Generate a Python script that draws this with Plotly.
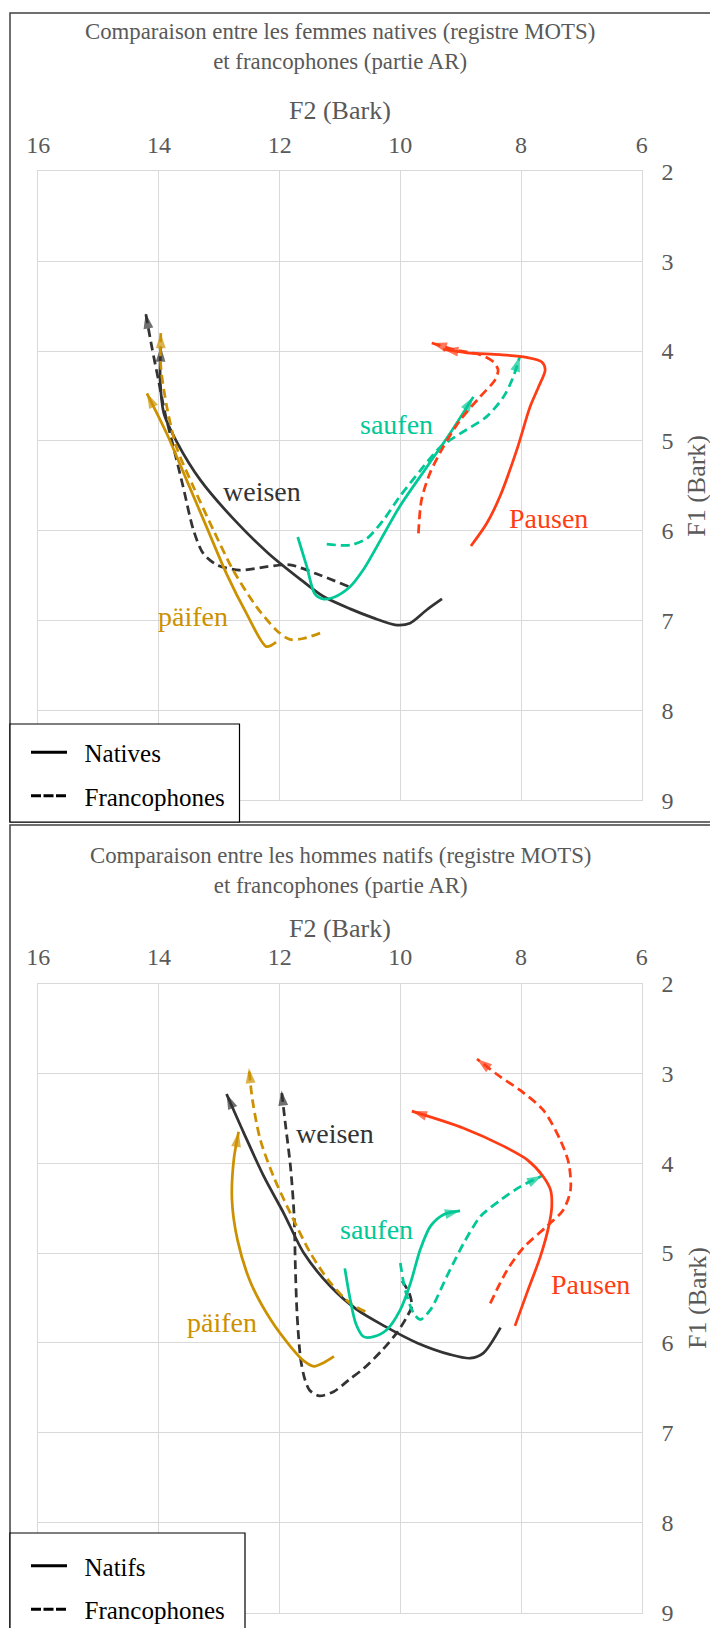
import plotly.graph_objects as go

# the page shows the figure with an 8px body margin, so the figure is drawn
# 8px smaller and every position below is given in page pixels
OFF = 8
FW, FH = 718 - OFF, 1628 - OFF
FONT = "Liberation Serif"
GREY = "#595959"

C_WEISEN = "#333333"
C_PAIFEN = "#CC9100"
C_SAUFEN = "#00C896"
C_PAUSEN = "#FF3C14"

# ---- femmes (top chart), F2 / F1 in Bark, first point = start, last = arrow
fw_weisen_nat_x = [9.31, 9.56, 9.84, 10.06, 10.45, 10.83, 11.28, 11.64, 12.19, 12.75, 13.31, 13.69, 13.92, 13.98, 13.97]
fw_weisen_nat_y = [6.76, 6.88, 7.03, 7.05, 6.97, 6.87, 6.73, 6.55, 6.25, 5.88, 5.44, 5.03, 4.69, 4.32, 3.95]
fw_weisen_fr_x = [10.86, 11.39, 11.83, 12.21, 12.66, 13.04, 13.27, 13.43, 13.60, 13.76, 13.90, 14.01, 14.12, 14.22]
fw_weisen_fr_y = [6.62, 6.48, 6.38, 6.40, 6.44, 6.38, 6.25, 5.99, 5.51, 5.07, 4.69, 4.32, 3.95, 3.58]
fw_paifen_nat_x = [12.06, 12.22, 12.55, 12.88, 13.21, 13.54, 13.87, 14.20]
fw_paifen_nat_y = [7.24, 7.29, 6.92, 6.48, 5.96, 5.44, 4.92, 4.47]
fw_paifen_fr_x = [11.33, 11.61, 11.83, 12.05, 12.38, 12.77, 13.10, 13.43, 13.71, 13.87, 13.97, 13.97]
fw_paifen_fr_y = [7.14, 7.20, 7.21, 7.11, 6.85, 6.44, 5.99, 5.51, 5.07, 4.62, 4.17, 3.80]
fw_saufen_nat_x = [11.70, 11.55, 11.42, 11.28, 11.10, 10.83, 10.60, 10.45, 10.01, 9.56, 9.18, 8.79]
fw_saufen_nat_y = [6.07, 6.40, 6.70, 6.76, 6.74, 6.62, 6.42, 6.25, 5.73, 5.29, 4.92, 4.51]
fw_saufen_fr_x = [11.22, 10.83, 10.56, 10.28, 10.01, 9.67, 9.34, 9.01, 8.57, 8.29, 8.13, 8.02]
fw_saufen_fr_y = [6.15, 6.16, 6.09, 5.88, 5.62, 5.33, 5.07, 4.92, 4.73, 4.51, 4.29, 4.06]
fw_pausen_nat_x = [8.83, 8.57, 8.35, 8.07, 7.85, 7.71, 7.60, 7.66, 7.91, 8.35, 8.90, 9.29]
fw_pausen_nat_y = [6.17, 5.92, 5.62, 5.10, 4.62, 4.40, 4.21, 4.12, 4.07, 4.04, 4.02, 3.98]
fw_pausen_fr_x = [9.70, 9.65, 9.51, 9.29, 9.01, 8.68, 8.43, 8.38, 8.46, 8.68, 9.07, 9.48]
fw_pausen_fr_y = [6.03, 5.66, 5.36, 5.07, 4.77, 4.51, 4.32, 4.21, 4.12, 4.04, 3.99, 3.91]

# ---- hommes (bottom chart)
hm_weisen_nat_x = [8.34, 8.62, 8.84, 9.17, 9.72, 10.27, 10.72, 11.16, 11.60, 11.93, 12.26, 12.59, 12.88]
hm_weisen_nat_y = [5.83, 6.11, 6.17, 6.13, 6.00, 5.81, 5.63, 5.37, 5.00, 4.56, 4.15, 3.67, 3.23]
hm_weisen_fr_x = [9.97, 9.85, 9.81, 9.90, 10.05, 10.30, 10.60, 10.85, 11.10, 11.34, 11.50, 11.58, 11.65, 11.71, 11.74, 11.76, 11.82, 11.90, 11.97]
hm_weisen_fr_y = [5.31, 5.45, 5.59, 5.72, 5.88, 6.08, 6.28, 6.41, 6.54, 6.59, 6.53, 6.41, 6.19, 5.70, 5.15, 4.59, 4.04, 3.59, 3.19]
hm_paifen_nat_x = [11.10, 11.27, 11.43, 11.60, 11.82, 12.15, 12.48, 12.70, 12.79, 12.76, 12.68]
hm_paifen_nat_y = [6.15, 6.22, 6.26, 6.20, 6.04, 5.74, 5.33, 4.85, 4.41, 3.96, 3.65]
hm_paifen_fr_x = [10.58, 10.83, 11.16, 11.49, 11.82, 12.10, 12.32, 12.45, 12.51]
hm_paifen_fr_y = [5.65, 5.56, 5.33, 5.00, 4.56, 4.15, 3.74, 3.30, 2.94]
hm_saufen_nat_x = [10.92, 10.83, 10.74, 10.61, 10.44, 10.22, 10.00, 9.83, 9.67, 9.50, 9.28, 9.01]
hm_saufen_nat_y = [5.17, 5.52, 5.78, 5.93, 5.93, 5.85, 5.63, 5.33, 4.96, 4.70, 4.57, 4.53]
hm_saufen_fr_x = [10.00, 9.92, 9.78, 9.67, 9.50, 9.23, 8.95, 8.67, 8.34, 8.01, 7.65]
hm_saufen_fr_y = [5.11, 5.41, 5.67, 5.74, 5.63, 5.26, 4.89, 4.59, 4.41, 4.26, 4.14]
hm_pausen_nat_x = [8.10, 7.90, 7.68, 7.54, 7.49, 7.51, 7.63, 7.90, 8.29, 8.95, 9.81]
hm_pausen_nat_y = [5.81, 5.44, 5.04, 4.70, 4.48, 4.30, 4.15, 3.96, 3.81, 3.61, 3.42]
hm_pausen_fr_x = [8.51, 8.23, 7.96, 7.57, 7.30, 7.18, 7.21, 7.35, 7.63, 8.01, 8.34, 8.73]
hm_pausen_fr_y = [5.56, 5.19, 4.94, 4.70, 4.52, 4.30, 4.00, 3.74, 3.41, 3.19, 3.04, 2.84]

# word labels (text, F2, F1)
words = ["weisen", "päifen", "saufen", "Pausen"]
word_colors = [C_WEISEN, C_PAIFEN, C_SAUFEN, C_PAUSEN]
fw_label_x = [12.30, 13.44, 10.06, 7.55]
fw_label_y = [5.56, 6.96, 4.82, 5.86]
hm_label_x = [11.08, 12.95, 10.39, 6.85]
hm_label_y = [3.67, 5.77, 4.74, 5.35]

titles = ["Comparaison entre les femmes natives (registre MOTS)<br>et francophones (partie AR)",
          "Comparaison entre les hommes natifs (registre MOTS)<br>et francophones (partie AR)"]
legend_names = [["Natives", "Francophones"], ["Natifs", "Francophones"]]


def px(x):
    return (x - OFF) / FW


def py(y):
    return 1 - (y - OFF) / FH


fig = go.Figure()


def add_curve(x, y, color, dashed, axis):
    n = len(x)
    fig.add_trace(go.Scatter(
        x=x, y=y, mode="lines+markers", xaxis="x" + axis, yaxis="y" + axis,
        line=dict(color=color, width=2.75, shape="spline", smoothing=0.8,
                  dash="9px,5px" if dashed else "solid"),
        marker=dict(symbol="arrow", angleref="previous", color=color,
                    size=[0] * (n - 1) + [16], line=dict(width=0)),
        showlegend=False, hoverinfo="skip"))


top = [(fw_weisen_nat_x, fw_weisen_nat_y, C_WEISEN, False), (fw_weisen_fr_x, fw_weisen_fr_y, C_WEISEN, True),
       (fw_paifen_nat_x, fw_paifen_nat_y, C_PAIFEN, False), (fw_paifen_fr_x, fw_paifen_fr_y, C_PAIFEN, True),
       (fw_saufen_nat_x, fw_saufen_nat_y, C_SAUFEN, False), (fw_saufen_fr_x, fw_saufen_fr_y, C_SAUFEN, True),
       (fw_pausen_nat_x, fw_pausen_nat_y, C_PAUSEN, False), (fw_pausen_fr_x, fw_pausen_fr_y, C_PAUSEN, True)]
bottom = [(hm_weisen_nat_x, hm_weisen_nat_y, C_WEISEN, False), (hm_weisen_fr_x, hm_weisen_fr_y, C_WEISEN, True),
          (hm_paifen_nat_x, hm_paifen_nat_y, C_PAIFEN, False), (hm_paifen_fr_x, hm_paifen_fr_y, C_PAIFEN, True),
          (hm_saufen_nat_x, hm_saufen_nat_y, C_SAUFEN, False), (hm_saufen_fr_x, hm_saufen_fr_y, C_SAUFEN, True),
          (hm_pausen_nat_x, hm_pausen_nat_y, C_PAUSEN, False), (hm_pausen_fr_x, hm_pausen_fr_y, C_PAUSEN, True)]

for c in top:
    add_curve(*c, "")
for c in bottom:
    add_curve(*c, "2")

# legend entries (black solid / dashed)
for i, (leg, axis) in enumerate([("legend", ""), ("legend2", "2")]):
    for j, dash in enumerate(["solid", "10px,2.5px"]):
        fig.add_trace(go.Scatter(
            x=[None], y=[None], mode="lines", xaxis="x" + axis, yaxis="y" + axis,
            name="\u00a0\u00a0" + legend_names[i][j], legend=leg, legendgroup=leg + str(j),
            line=dict(color="black", width=3, dash=dash)))

# word labels
annotations = []
for lx, ly, axis in [(fw_label_x, fw_label_y, ""), (hm_label_x, hm_label_y, "2")]:
    for k in range(4):
        annotations.append(dict(x=lx[k], y=ly[k], xref="x" + axis, yref="y" + axis,
                                text=words[k], showarrow=False,
                                font=dict(family=FONT, size=28, color=word_colors[k])))

x_dom = [px(38.3), px(641.7)]
y_doms = [[py(800.2), py(171.4)], [py(1612.5), py(983.5)]]
x_mid = 0.5 * (x_dom[0] + x_dom[1])

# chart titles and axis titles
for t, ty, f2y, dom in [(titles[0], 46, 110, y_doms[0]), (titles[1], 871, 928, y_doms[1])]:
    annotations.append(dict(x=x_mid, y=py(ty), xref="paper", yref="paper",
                            xanchor="center", yanchor="middle",
                            text=t, showarrow=False, align="center",
                            font=dict(family=FONT, size=22.8, color=GREY)))
    annotations.append(dict(x=x_mid, y=py(f2y), xref="paper", yref="paper",
                            xanchor="center", yanchor="middle",
                            text="F2 (Bark)", showarrow=False,
                            font=dict(family=FONT, size=26, color=GREY)))
    annotations.append(dict(x=px(697), y=0.5 * (dom[0] + dom[1]), xref="paper", yref="paper",
                            xanchor="center", yanchor="middle",
                            text="F1 (Bark)", showarrow=False, textangle=-90,
                            font=dict(family=FONT, size=26, color=GREY)))

axis_common = dict(showgrid=True, gridcolor="#d9d9d9", gridwidth=1, zeroline=False,
                   showline=True, mirror=True, linecolor="#d9d9d9", linewidth=1,
                   ticks="", tickfont=dict(family=FONT, size=24, color=GREY))


def xaxis(anchor):
    return dict(axis_common, domain=x_dom, range=[16, 6], dtick=2, side="top", anchor=anchor,
                ticklabelstandoff=8)


def yaxis(dom, anchor):
    return dict(axis_common, domain=dom, range=[9, 2], dtick=1, side="right", anchor=anchor,
                ticklabelstandoff=14)


legend_common = dict(bgcolor="rgba(0,0,0,0)", borderwidth=0, xanchor="left",
                     yanchor="top", traceorder="grouped", tracegroupgap=8,
                     indentation=16, itemwidth=36,
                     font=dict(family=FONT, size=25, color="black"))

frame = dict(color="#404040", width=1.5)
shapes = [
    dict(type="rect", xref="paper", yref="paper", x0=px(10), x1=1.02, y0=py(822), y1=py(13),
         line=frame, layer="below"),
    dict(type="rect", xref="paper", yref="paper", x0=px(10), x1=1.02, y0=-0.02, y1=py(825),
         line=frame, layer="below"),
    # legend boxes
    dict(type="rect", xref="paper", yref="paper", x0=px(10), x1=px(239.5), y0=py(822), y1=py(724),
         line=dict(color="black", width=1.2), fillcolor="white", layer="above"),
    dict(type="rect", xref="paper", yref="paper", x0=px(10), x1=px(245), y0=-0.02, y1=py(1533),
         line=dict(color="black", width=1.2), fillcolor="white", layer="above"),
]

fig.update_layout(
    width=FW, height=FH,
    margin=dict(l=0, r=0, t=0, b=0, autoexpand=False),
    paper_bgcolor="white", plot_bgcolor="white",
    xaxis=xaxis("y"),
    yaxis=yaxis(y_doms[0], "x"),
    xaxis2=xaxis("y2"),
    yaxis2=yaxis(y_doms[1], "x2"),
    legend=dict(legend_common, x=px(10), y=py(729.6)),
    legend2=dict(legend_common, x=px(10), y=py(1543)),
    annotations=annotations,
    shapes=shapes,
)

fig.write_html("out.html")
